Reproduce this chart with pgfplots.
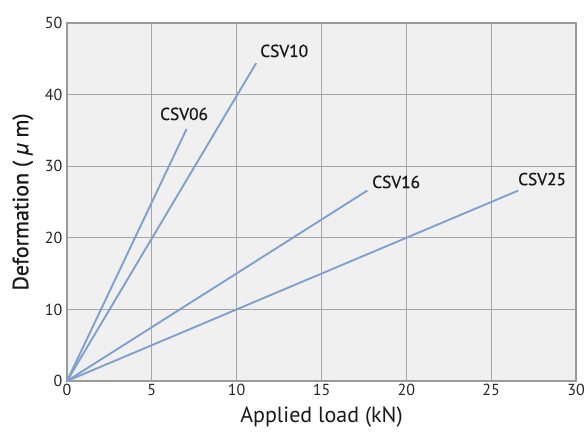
\documentclass[border=0pt]{standalone}
\usepackage{pgfplots}
\pgfplotsset{compat=1.18}
\usepackage{fontspec}
\setmainfont{PT Sans}
\newfontfamily\semib[FakeBold=0.8]{PT Sans}
\definecolor{bgc}{HTML}{F0F0F0}
\definecolor{gridc}{HTML}{A6A6A6}
\definecolor{axc}{HTML}{9A9A9A}
\definecolor{linec}{HTML}{7F9FCC}
\begin{document}
\begin{tikzpicture}
\useasboundingbox (-50.25pt,-40.5pt) rectangle (388.5pt,285.75pt);
\begin{axis}[
  scale only axis,
  width=381.75pt, height=268.5pt,
  xmin=0, xmax=30, ymin=0, ymax=50,
  xtick={0,5,...,30}, ytick={0,10,...,50},
  grid=major,
  major grid style={draw=gridc, line width=0.9pt},
  axis line style={draw=axc, line width=1.5pt},
  axis background/.style={fill=bgc},
  tick style={draw=none},
  /pgf/number format/assume math mode=true,
  ticklabel style={font=\fontsize{12}{14}\selectfont, text=black!85},
  xticklabel style={yshift=1pt},
  label style={font=\fontsize{16.5}{18}\selectfont, text=black!90},
  xlabel={Applied load (kN)},
  ylabel={Deformation ( \textit{μ} m)},
  xlabel style={yshift=-1pt},
  ylabel style={yshift=2pt, font=\semib\fontsize{16.5}{18}\selectfont},
  clip=false,
]
\addplot[draw=linec, line width=1.4pt] coordinates {(0,0) (7.05,35.2)};
\addplot[draw=linec, line width=1.4pt] coordinates {(0,0) (11.15,44.4)};
\addplot[draw=linec, line width=1.4pt] coordinates {(0,0) (17.7,26.6)};
\addplot[draw=linec, line width=1.4pt] coordinates {(0,0) (26.6,26.6)};
\begin{scope}[every node/.style={font=\semib\fontsize{13}{15}\selectfont, text=black!90}]
\node at (axis cs:6.9,37.3) {CSV06};
\node at (axis cs:12.8,46.1) {CSV10};
\node at (axis cs:19.4,27.8) {CSV16};
\node at (axis cs:28.0,28.2) {CSV25};
\end{scope}
\end{axis}
\end{tikzpicture}
\end{document}
